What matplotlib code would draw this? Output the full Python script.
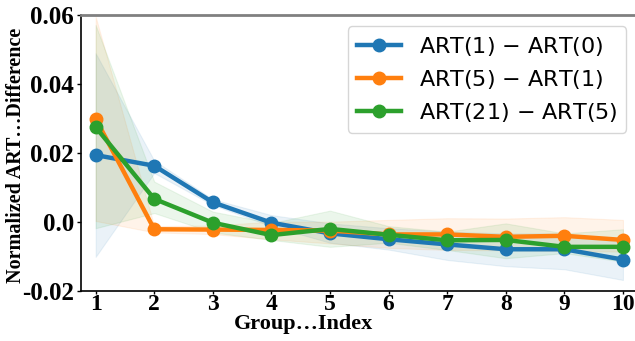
import numpy as np
import matplotlib
matplotlib.use('Agg')
import matplotlib.pyplot as plt

# data
groups = [1, 2, 3, 4, 5, 6, 7, 8, 9, 10]
labels = ['ART(1) $-$ ART(0)', 'ART(5) $-$ ART(1)', 'ART(21) $-$ ART(5)']
colors = ['#1f77b4', '#ff7f0e', '#2ca02c']

art1_0 = [0.0194, 0.0163, 0.0057, -0.0002, -0.0033, -0.0050, -0.0065, -0.0079, -0.0079, -0.0109]
art5_1 = [0.0299, -0.0021, -0.0022, -0.0023, -0.0025, -0.0036, -0.0036, -0.0043, -0.0040, -0.0052]
art21_5 = [0.0275, 0.0067, -0.0002, -0.0038, -0.0020, -0.0037, -0.0053, -0.0052, -0.0072, -0.0072]

art1_0_hi = [0.0489, 0.0178, 0.0066, 0.0020, -0.0004, -0.0018, -0.0028, -0.0033, -0.0033, -0.0060]
art1_0_lo = [-0.0101, 0.0142, 0.0049, -0.0012, -0.0060, -0.0080, -0.0110, -0.0128, -0.0137, -0.0168]
art5_1_hi = [0.0595, -0.0012, -0.0010, 0.0001, 0.0001, 0.0006, 0.0011, 0.0010, 0.0014, 0.0006]
art5_1_lo = [0.0003, -0.0030, -0.0035, -0.0050, -0.0062, -0.0075, -0.0081, -0.0082, -0.0084, -0.0086]
art21_5_hi = [0.0571, 0.0117, 0.0030, -0.0003, 0.0033, -0.0012, -0.0028, -0.0004, -0.0033, -0.0021]
art21_5_lo = [-0.0018, 0.0026, -0.0030, -0.0052, -0.0072, -0.0060, -0.0081, -0.0105, -0.0090, -0.0115]

yticks = [-0.02, 0.0, 0.02, 0.04, 0.06]
ytick_labels = ['-0.02', '0.0', '0.02', '0.04', '0.06']

series = [art1_0, art5_1, art21_5]
highs = [art1_0_hi, art5_1_hi, art21_5_hi]
lows = [art1_0_lo, art5_1_lo, art21_5_lo]

serif = {'family': 'Liberation Serif', 'weight': 'bold'}

fig = plt.figure(figsize=(6.35, 3.41), dpi=100)
ax = fig.add_axes([81/635, 1 - 291/341, (637.6 - 81)/635, (291 - 15)/341])

for i in range(len(series)):
	ax.fill_between(groups, lows[i], highs[i], color=colors[i], alpha=0.09, linewidth=0.8)
for i in range(len(series)):
	ax.plot(groups, series[i], 'o-', color=colors[i], lw=3.2, markersize=9, label=labels[i])

ax.set_xlim(0.75, 10.25)
ax.set_ylim(-0.02, 0.06)
ax.set_xticks(groups)
ax.set_xticklabels([str(g) for g in groups], fontdict=serif, fontsize=17)
ax.set_yticks(yticks)
ax.set_yticklabels(ytick_labels, fontdict=serif, fontsize=18)
ax.tick_params(axis='y', length=3, width=1, pad=2)
ax.tick_params(axis='x', length=2, width=1, pad=0)

ax.set_xlabel('Group…Index', fontdict=serif, fontsize=16, labelpad=0)
ax.xaxis.set_label_coords(0.399, -0.085)
ax.set_ylabel('Normalized ART…Difference', fontdict=serif, fontsize=14.5)
ax.yaxis.set_label_coords(-0.098, 0.49)

for s in ['left', 'bottom']:
	ax.spines[s].set_color('black')
	ax.spines[s].set_linewidth(1.2)
for s in ['top', 'right']:
	ax.spines[s].set_color('#808080')
	ax.spines[s].set_linewidth(2)

ax.legend(loc='upper right', prop={'family': 'DejaVu Sans', 'size': 16},
	handlelength=2.0, labelspacing=0.45, borderaxespad=0.5)

fig.savefig('out.png', dpi=100)
